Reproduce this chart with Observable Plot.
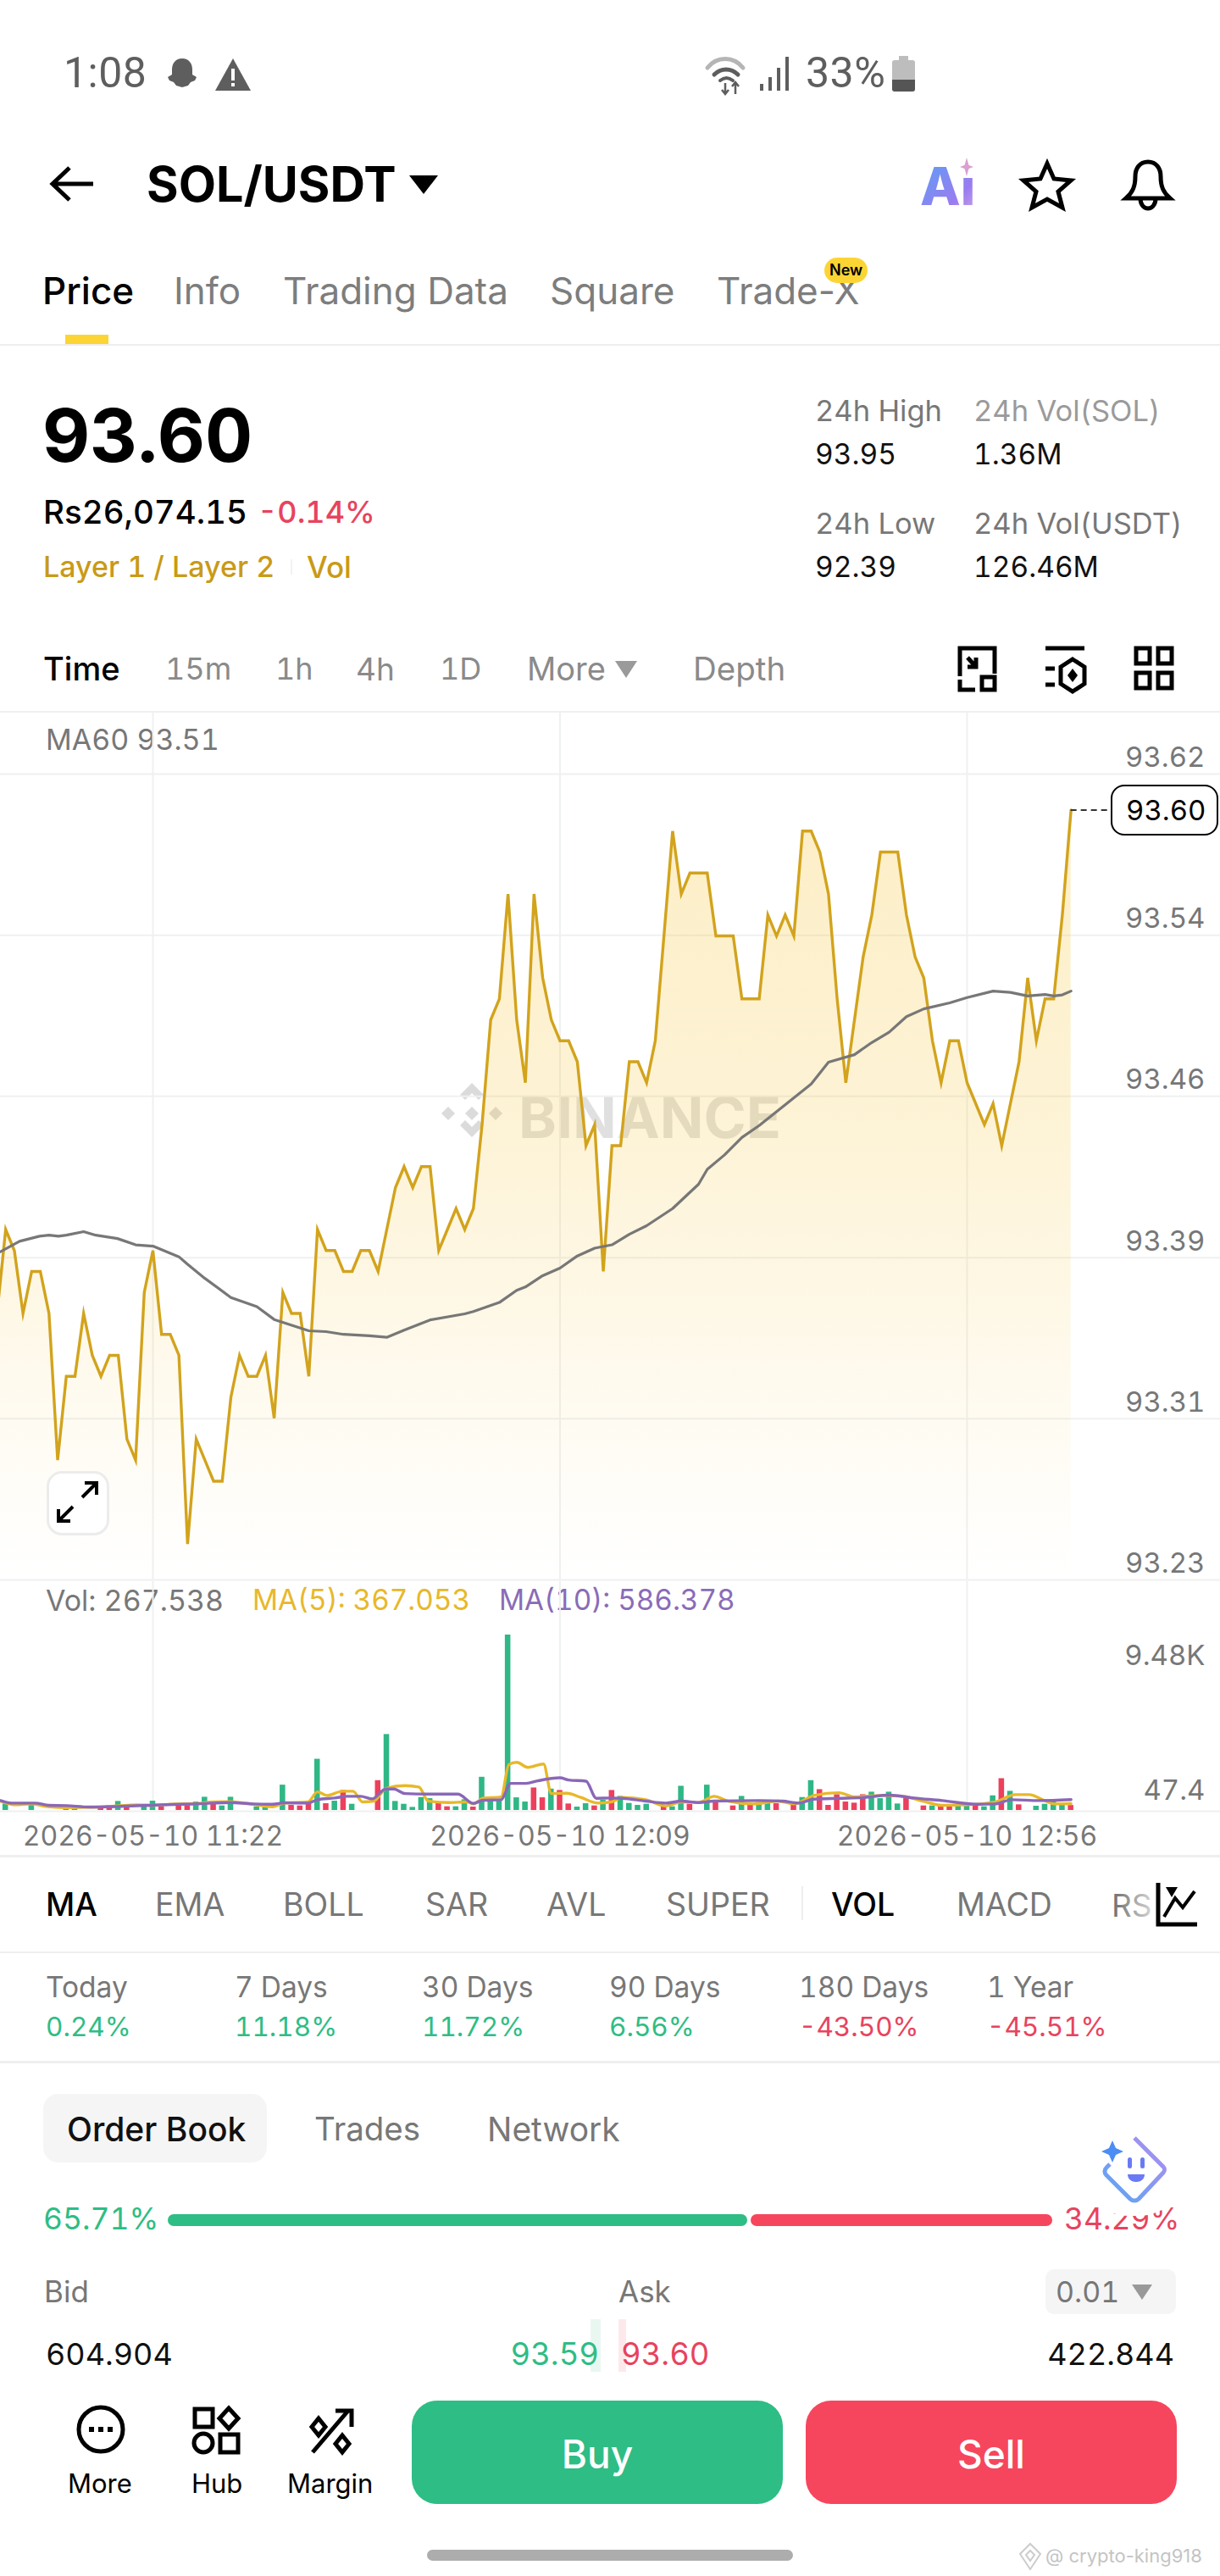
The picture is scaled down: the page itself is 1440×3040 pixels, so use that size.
<!DOCTYPE html>
<html lang="en">
<head>
<meta charset="utf-8">
<title>SOL/USDT</title>
<script src="https://cdn.jsdelivr.net/npm/d3@7"></script>
<script src="https://cdn.jsdelivr.net/npm/@observablehq/plot@0.6"></script>
<style>
html,body{margin:0;padding:0;background:#fff}
#page{position:relative;width:1440px;height:3040px;overflow:hidden;background:#fff;font-family:Inter,"Noto Sans",sans-serif;font-variant-numeric:tabular-nums}
.t{position:absolute;white-space:nowrap;transform:translateY(-50%);line-height:1}
.b{position:absolute}
.plotwrap{position:absolute;left:0}
.plotwrap svg{font-variant-numeric:tabular-nums}
svg.ic{position:absolute;overflow:visible}
</style>
</head>
<body>
<div id="page"></div>
<script>
// ---- price series: one reading per minute, first reading 18 minutes before 11:22
const priceFirstMinute = -18;
const prices = [
93.36,93.40,93.39,93.36,93.38,93.38,93.36,93.29,93.33,93.33,93.36,93.34,93.33,93.34,93.34,93.30,93.29,93.37,
93.39,93.35,93.35,93.34,93.25,93.30,93.29,93.28,93.28,93.32,
93.34,93.33,93.33,93.34,93.31,93.37,93.36,93.36,93.33,93.40,
93.39,93.39,93.38,93.38,93.39,93.39,93.38,93.40,93.42,93.43,
93.42,93.43,93.43,93.39,93.40,93.41,93.40,93.41,93.45,93.50,
93.51,93.56,93.50,93.47,93.56,93.52,93.50,93.49,93.49,93.48,
93.44,93.45,93.38,93.44,93.44,93.48,93.48,93.47,93.49,93.54,
93.59,93.56,93.57,93.57,93.57,93.54,93.54,93.54,93.51,93.51,
93.51,93.55,93.54,93.55,93.54,93.59,93.59,93.58,93.56,93.51,
93.47,93.50,93.53,93.55,93.58,93.58,93.58,93.55,93.53,93.52,
93.49,93.47,93.49,93.49,93.47,93.46,93.45,93.46,93.44,93.46,
93.48,93.52,93.49,93.51,93.51,93.55,93.60];

// ---- MA60
const ma60Minutes = [-17.6,-15.4,-13.1,-12,-10.9,-10,-8,-6.6,-4.1,-2,0,3,4,6,9,12,14,18,20,22,25,27,29,32,36,37,40,42,43,45,47,49,51,53,55,57,60,63,64,66,68,70,73,76,78,81,83,85,87,89,92,94,97,99,101,103,104,105,106];
const ma60Values = [93.3894,93.3944,93.3968,93.3973,93.3968,93.3973,93.399,93.3973,93.3957,93.3927,93.3921,93.387,93.3834,93.3767,93.3676,93.3632,93.3571,93.3517,93.3513,93.35,93.3493,93.3486,93.352,93.3569,93.3598,93.3609,93.3652,93.371,93.3726,93.378,93.3816,93.3874,93.3911,93.3927,93.3977,93.4018,93.41,93.4216,93.4287,93.4356,93.4439,93.4496,93.4595,93.4694,93.4798,93.4834,93.4892,93.4941,93.5015,93.5052,93.5081,93.5106,93.5137,93.5131,93.5114,93.5121,93.5114,93.5119,93.5137];

// ---- volume bars
const volMinutes = [-17,-14,-10,-9,-6,-5,-4,-3,-1,0,1,3,4,5,6,7,8,9,12,13,15,16,17,18,19,20,21,22,23,26,27,28,29,30,31,32,33,34,35,36,37,38,39,40,41,42,43,44,45,46,47,48,49,50,51,52,53,54,55,56,57,59,60,61,62,64,65,67,68,69,70,71,72,74,75,76,77,78,79,80,81,82,83,84,85,86,87,89,90,91,92,93,94,95,96,97,98,99,100,102,103,104,105,106];
const volValues = [350,274,122,91,198,274,486,198,198,502,198,304,304,456,714,350,243,714,198,152,1368,274,243,395,2766,365,502,1079,334,1611,4104,486,334,167,699,638,426,198,198,578,182,1794,471,578,9480,684,456,1216,684,1155,1079,350,182,365,243,547,1079,760,380,274,334,243,198,1307,334,1368,426,243,760,334,426,456,365,304,699,1611,1125,274,851,456,395,851,988,638,988,350,654,243,243,274,274,274,304,274,198,790,1718,1034,304,228,334,502,274,267.538];
const volSides = "ggggrrgrggrrrggrgggggrrrgrgrgrggggggrrggrggggggrrgrrggrgrggggrggrgrrgrggrrggrrrrrrggggrrgrrggrggrgrgggg";

// ---- volume moving averages
const ma5Minutes = [-17.6,-15.8,-14,-12.2,-10.2,-7.3,-4.1,-1.9,0,2.6,4.9,7.1,8.9,11.2,13.8,15.2,17.9,19,20.1,21.9,23.1,24.2,25.5,26.9,29.1,30.7,31.8,34.1,36.3,37,38.1,40.2,41.1,42,43.3,45.1,46,47.8,49.4,51.4,52.9,54.2,56.9,59.2,61,63,64.8,66.4,69.3,72.2,74,76.3,79.2,81,83.9,86.6,88.9,91.1,94,97.2,99.6,101.2,102.6,104.1,106];
const ma5Values = [502,304,350,198,152,167,243,304,274,350,365,456,471,350,198,395,456,1003,806,1034,1034,456,502,1186,1338,1262,502,426,456,350,654,730,2478,2599,2326,2508,912,927,699,395,456,699,578,243,456,426,760,502,350,502,350,806,958,730,806,760,502,274,304,456,851,851,608,350,367.053];
const ma10Minutes = [-17.6,-16.3,-13.6,-12,-10,-7.3,-4.1,0,4.9,8.9,11.6,13.8,15.2,17.9,19,21,22.4,24,25.3,26.9,27.8,29.1,31.8,35.2,37,38.1,40.2,41.3,43.1,44.4,47,48,50,51.2,52.9,54.2,56.9,59.2,61,63,64.8,70,72.7,74.5,76.3,79.2,82.1,85,87.9,91.1,95.1,97.2,99.2,102.3,106];
const ma10Values = [532,395,395,274,258,182,213,289,350,426,350,334,410,395,578,669,760,760,623,1155,1155,912,882,882,380,547,578,1459,1459,1596,1763,1642,1581,654,669,654,502,395,502,426,502,532,502,395,608,654,699,821,669,532,334,350,578,532,586.378];

// ---- axes
const priceTicks = [93.6172,93.5403,93.4635,93.3866,93.3098,93.2329];
const gridMinutes = [0,47,94];
const timeLabels = ["2026-05-10 11:22","2026-05-10 12:09","2026-05-10 12:56"];
const volumeTicks = ["9.48K","47.4"];
const lastPrice = 93.60;

// ---- screen texts
const tabs = [["Price",50,"#000",500],["Info",205,"#7d7d7d",400],["Trading Data",334,"#7d7d7d",400],["Square",649,"#7d7d7d",400],["Trade-X",846,"#7d7d7d",400]];
const intervals = [["Time",51,"#000",500,38],["15m",195,"#8a8a8a",400,36],["1h",325,"#8a8a8a",400,36],["4h",420,"#8a8a8a",400,37],["1D",519,"#8a8a8a",400,36],["More",622,"#8a8a8a",400,38],["Depth",818,"#8a8a8a",400,38.5]];
const indicators = [["MA",54,"#000",500],["EMA",183,"#777",400],["BOLL",334,"#777",400],["SAR",502,"#777",400],["AVL",645,"#777",400],["SUPER",786,"#777",400],["VOL",981,"#000",500],["MACD",1129,"#777",400]];
const periods = [["Today","0.24%",54],["7 Days","11.18%",277],["30 Days","11.72%",498],["90 Days","6.56%",719],["180 Days","-43.50%",943],["1 Year","-45.51%",1165]];
const stats = [["24h High","93.95",962,"#777",485,537],["24h Vol(SOL)","1.36M",1149,"#9a9a9a",485,537],["24h Low","92.39",962,"#777",618,670],["24h Vol(USDT)","126.46M",1149,"#777",618,670]];

const GREEN="#2ebd85", RED="#e8435e", GOLD="#c99a16";
const page = document.getElementById("page");

function t(text,x,y,size,color,weight,extra){
  const e=document.createElement("div");e.className="t";e.textContent=text;
  e.style.cssText+=`left:${x}px;top:${y}px;font-size:${size}px;color:${color};font-weight:${weight||400};${extra||""}`;
  page.appendChild(e);return e;
}
function tr(text,right,y,size,color,weight){
  const e=t(text,0,y,size,color,weight);e.style.left="auto";e.style.right=(1440-right)+"px";return e;
}
function box(x,y,w,h,bg,r,extra){
  const e=document.createElement("div");e.className="b";
  e.style.cssText=`left:${x}px;top:${y}px;width:${w}px;height:${h}px;background:${bg};border-radius:${r||0}px;${extra||""}`;
  page.appendChild(e);return e;
}
function ic(x,y,w,h,inner,vb){
  const d=document.createElement("div");
  d.innerHTML=`<svg class="ic" xmlns="http://www.w3.org/2000/svg" style="left:${x}px;top:${y}px" width="${w}" height="${h}" viewBox="${vb||`0 0 ${w} ${h}`}">${inner}</svg>`;
  page.appendChild(d.firstChild);
}

/* status bar */
t("1:08",75,86,50,"#5e5e5e",400,"font-family:Roboto;letter-spacing:.5px");
ic(193,62,44,50,'<path d="M22 2c8 0 12 6 12 13l0 6 5 3-2 4-5 2-3 4-7 2-7-2-3-4-5-2-2-4 5-3 0-6C10 8 14 2 22 2z" fill="#5e5e5e"/>','0 0 44 40');
ic(253,68,44,40,'<path d="M22 1L43 39H1z" fill="#5e5e5e"/><rect x="20" y="13" width="4" height="14" fill="#fff"/><rect x="20" y="30" width="4" height="4" fill="#fff"/>');
ic(832,62,52,50,'<g fill="none" stroke-linecap="round"><path d="M3 18C14 4 34 4 45 18" stroke="#b5b5b5" stroke-width="5"/><path d="M11 26c8-8 20-8 28 0" stroke="#5e5e5e" stroke-width="5"/><path d="M18 33c5-4 10-4 15 0" stroke="#5e5e5e" stroke-width="4"/></g><path d="M24 36v12M20 44l4 5 4-5" stroke="#5e5e5e" stroke-width="2.5" fill="none"/><path d="M36 49V36M32 40l4-5 4 5" stroke="#5e5e5e" stroke-width="2.5" fill="none"/>');
ic(896,66,38,42,'<g fill="#5e5e5e"><rect x="1" y="33" width="4" height="8"/><rect x="11" y="25" width="4" height="16"/><rect x="21" y="14" width="4" height="27"/><rect x="31" y="1" width="4" height="40"/></g>');
t("33%",951,86,50,"#5e5e5e",400,"font-family:Roboto;letter-spacing:.5px");
ic(1052,66,30,42,'<path d="M9 0h11v5h5a3 3 0 0 1 3 3v31a3 3 0 0 1-3 3H4a3 3 0 0 1-3-3V8a3 3 0 0 1 3-3h5z" fill="#bdbdbd"/><path d="M1 28h27v11a3 3 0 0 1-3 3H4a3 3 0 0 1-3-3z" fill="#555"/>');

/* nav bar */
ic(58,195,54,44,'<path d="M52 22H4M24 3L4 22l20 19" fill="none" stroke="#000" stroke-width="5"/>');
t("SOL/USDT",173,218,57.5,"#000",700);
ic(483,207,34,22,'<path d="M0 0h34L17 22z" fill="#000"/>');
t("Ai",1086,220,62,"url",800,"background:linear-gradient(135deg,#5aa0f5,#9a7cf0 70%,#c9a2e8);-webkit-background-clip:text;background-clip:text;color:transparent;");
box(1128,190,24,20,"#fff");
ic(1133,186,16,22,'<path d="M8 0l3 11-3 11-3-11z" fill="#d9a0d0"/><path d="M0 11l8-3 8 3-8 3z" fill="#d9a0d0"/>');
ic(1206,190,60,56,'<path d="M30 3l8 18 20 2-15 13 5 19-18-10-18 10 5-19L2 23l20-2z" fill="none" stroke="#000" stroke-width="5" stroke-linejoin="miter"/>');
ic(1325,188,60,60,'<path d="M30 3c-10 0-15 8-15 17 0 12-3 19-11 26h52c-8-7-11-14-11-26 0-9-5-17-15-17z" fill="none" stroke="#000" stroke-width="5"/><path d="M21 46c0 16 18 16 18 0" fill="none" stroke="#000" stroke-width="5"/>');

/* tabs */
tabs.forEach(d=>t(d[0],d[1],343,44,d[2],d[3],"font-variant-numeric:normal"));
box(973,304,51,30,"#fcd535",15);
t("New",979,319,18,"#000",600);
box(77,395,51,11,"#fcd535");
box(0,406,1440,2,"#eeeeee");

/* headline */
t("93.60",50,513,87,"#000",700);
t("Rs26,074.15",51,604,38.5,"#000",500);
t("-0.14%",304,604,36,RED,500);
t("Layer 1 / Layer 2",51,669,34,GOLD,500);
box(343,660,2,18,"#f2f2f2");
t("Vol",362,669,35,GOLD,500);
stats.forEach(d=>{t(d[0],d[2],d[4],34.5,d[3],400);t(d[1],d[2],d[5],33.5,"#111",400);});

/* interval row */
intervals.forEach(d=>t(d[0],d[1],789,d[4],d[2],d[3]));
ic(726,780,26,20,'<path d="M0 0h26L13 20z" fill="#9a9a9a"/>');
ic(1130,762,46,54,'<g fill="none" stroke="#000" stroke-width="5"><path d="M3 36V3h41v30"/><path d="M21 52H3V40"/><rect x="29" y="37" width="15" height="15"/><path d="M12 14l10 11M22 14v11H12"/></g>');
ic(1232,762,50,54,'<g fill="none" stroke="#000" stroke-width="5"><path d="M2 3h46"/><path d="M2 27h11M2 46h11"/><path d="M34 16l14 9v20l-14 9-14-9V25z"/></g><path d="M34 27l6 8-6 8-6-8z" fill="#000"/>');
ic(1338,762,48,54,'<g fill="none" stroke="#000" stroke-width="5"><rect x="3" y="3" width="16" height="18"/><rect x="29" y="3" width="16" height="18"/><rect x="3" y="32" width="16" height="18"/><rect x="29" y="32" width="16" height="18"/></g>');
box(0,839,1440,2,"#f0f0f0");
t("MA60 93.51",54,873,34,"#777",400);

/* BINANCE watermark */
ic(517,1274,82,82,'<g fill="#000" opacity=".14"><path d="M40 4l14 14-6 6-8-8-8 8-6-6zM4 40l8-8 8 8-8 8zM60 40l8-8 8 8-8 8zM40 32l8 8-8 8-8-8zM26 54l6-6 8 8 8-8 6 6-14 14z"/></g>');
t("BINANCE",612,1318,68,"rgba(0,0,0,.12)",700);

/* price panel */
const chartTopValue = 93.6172 + (73/951)*(93.6172-93.2329);
const priceRows = prices.map((p,i)=>({m:priceFirstMinute+i,p}));
const maRows = ma60Minutes.map((m,i)=>({m,v:ma60Values[i]}));
const xDomain = [-17.607,123.25];
const pricePlot = Plot.plot({
  width:1440,height:1026,marginTop:73,marginBottom:2,marginLeft:0,marginRight:0,
  style:{background:"transparent",fontFamily:"Inter",overflow:"visible"},
  x:{domain:xDomain,axis:null},
  y:{domain:[93.2329,93.6172],axis:null},
  marks:[
    ()=>{const s=d3.create("svg:defs");
      const g=s.append("linearGradient").attr("id","priceFill").attr("x1",0).attr("y1",0).attr("x2",0).attr("y2",1);
      [[0,.27],[.4,.2],[.6,.135],[.8,.06],[1,0]].forEach(([o,a])=>g.append("stop").attr("offset",o).attr("stop-color","rgb(245,193,46)").attr("stop-opacity",a));
      return s.node();},
    Plot.ruleY(priceTicks,{stroke:"#eff0f1",strokeWidth:2}),
    Plot.ruleX(gridMinutes,{y1:93.2329,y2:chartTopValue,stroke:"#eff0f1",strokeWidth:2}),
    Plot.areaY(priceRows,{x:"m",y1:93.2329,y2:"p",fill:"url(#priceFill)"}),
    Plot.line(priceRows,{x:"m",y:"p",stroke:"#d2a31c",strokeWidth:3.4,strokeLinejoin:"miter",strokeMiterlimit:6}),
    Plot.line(maRows,{x:"m",y:"v",stroke:"#777777",strokeWidth:3.2}),
    Plot.ruleY([lastPrice],{x1:106,x2:110.6,stroke:"#333",strokeWidth:2,strokeDasharray:"7 5"}),
    Plot.text(priceTicks,{y:d=>d,text:d=>d.toFixed(2),frameAnchor:"right",textAnchor:"end",dx:-18,dy:-19,fontSize:33,fill:"#777"})
  ]
});
const pw=document.createElement("div");pw.className="plotwrap";pw.style.top="840px";pw.appendChild(pricePlot);page.appendChild(pw);

box(1311,926,127,60,"#fff",16,"border:2px solid #000;box-sizing:border-box;");
t(lastPrice.toFixed(2),1329,956,33,"#000",400);

/* expand button */
box(55,1736,74,76,"rgba(255,255,255,.9)",18,"border:3px solid #ececec;box-sizing:border-box;");
ic(67,1748,50,50,'<g fill="none" stroke="#000" stroke-width="4"><path d="M30 19L46 3M33 2h14v14"/><path d="M19 30L3 46M16 47H2V33"/></g>');

/* volume panel */
t("Vol: 267.538",54,1889,34,"#777",400);
t("MA(5): 367.053",298,1889,33.3,"#e8b829",400);
t("MA(10): 586.378",589,1889,33.3,"#8a6bb8",400);

const volRows = volMinutes.map((m,i)=>({m,v:volValues[i],up:volSides[i]==="g"}));
const ma5Rows = ma5Minutes.map((m,i)=>({m,v:ma5Values[i]}));
const ma10Rows = ma10Minutes.map((m,i)=>({m,v:ma10Values[i]}));
const volPlot = Plot.plot({
  width:1440,height:324,marginTop:63,marginBottom:54,marginLeft:0,marginRight:0,
  style:{background:"transparent",fontFamily:"Inter",overflow:"visible"},
  x:{domain:xDomain,axis:null},
  y:{domain:[0,9480],axis:null},
  marks:[
    Plot.ruleX(gridMinutes,{y1:0,y2:12365,stroke:"#eff0f1",strokeWidth:2}),
    Plot.ruleY([0],{stroke:"#efefef",strokeWidth:2,dy:1}),
    Plot.rectY(volRows,{x1:d=>d.m-0.32,x2:d=>d.m+0.32,y1:0,y2:"v",fill:d=>d.up?"#2fb786":"#ec405c"}),
    Plot.line(ma5Rows,{x:"m",y:"v",stroke:"#e8b829",strokeWidth:3.4,curve:"monotone-x"}),
    Plot.line(ma10Rows,{x:"m",y:"v",stroke:"#8a67b8",strokeWidth:3.4,curve:"monotone-x"}),
    Plot.text(gridMinutes,{x:d=>d,text:(d,i)=>timeLabels[i],frameAnchor:"bottom",lineAnchor:"middle",dy:31,fontSize:32,fill:"#777"}),
    Plot.text([volumeTicks[0]],{frameAnchor:"top-right",textAnchor:"end",lineAnchor:"middle",dx:-18,dy:25,fontSize:33,fill:"#777"}),
    Plot.text([volumeTicks[1]],{frameAnchor:"bottom-right",textAnchor:"end",lineAnchor:"middle",dx:-18,dy:-23,fontSize:33,fill:"#777"})
  ]
});
const vw=document.createElement("div");vw.className="plotwrap";vw.style.top="1866px";vw.appendChild(volPlot);page.appendChild(vw);

/* indicators */
box(0,2189,1440,3,"#efefef");
indicators.forEach(d=>t(d[0],d[1],2248,37.5,d[2],d[3]));
t("RS",1312,2248,37,"#777",400);
box(1318,2210,60,74,"transparent",0,"background:linear-gradient(90deg,rgba(255,255,255,0),#fff)");
box(946,2226,2,40,"#eeeeee");
ic(1364,2222,50,52,'<path d="M3 0v49h46" fill="none" stroke="#000" stroke-width="5"/><path d="M10 40l13-22 9 11L46 10" fill="none" stroke="#000" stroke-width="4"/><path d="M12 5h14L19 17z" fill="#000"/>');
box(0,2303,1440,2,"#efefef");
periods.forEach(d=>{t(d[0],d[2],2346,33.5,"#777",400);t(d[1],d[2],2392,31.5,d[1][0]==="-"?RED:GREEN,400);});
box(0,2432,1440,3,"#efefef");

/* order book */
box(51,2471,264,81,"#f5f5f5",18);
t("Order Book",79,2512,39,"#111",500);
t("Trades",371,2512,38.5,"#777",400);
t("Network",575,2512,39,"#777",400);
t("65.71%",51,2619,35.5,GREEN,400);
t("34.29%",1256,2619,35.5,RED,400);
box(198,2613,684,14,GREEN,7);
box(886,2613,356,14,"#f6465d",7);
box(1273,2495,130,120,"#fff",60);
ic(1299,2520,78,80,'<defs><linearGradient id="bot" x1="0" y1="1" x2="1" y2="0"><stop offset="0" stop-color="#5aa6f5"/><stop offset="1" stop-color="#b08cf0"/></linearGradient></defs><path d="M40 3l34 34a5 5 0 0 1 0 7L45 75a7 7 0 0 1-10 0L7 47a6 6 0 0 1 0-9l4-4" fill="none" stroke="url(#bot)" stroke-width="5"/><path d="M14 6l4 9 9 4-9 4-4 9-4-9-9-4 9-4z" fill="#4c8cf5"/><rect x="32" y="26" width="5" height="13" rx="2.5" fill="#6a7af5"/><rect x="47" y="26" width="5" height="13" rx="2.5" fill="#6a7af5"/><path d="M32 46h20c0 12-20 12-20 0z" fill="#6a7af5"/>');
t("Bid",52,2704,35,"#777",400);
t("Ask",730,2704,35,"#777",400);
box(1234,2678,154,53,"#f5f5f5",10);
t("0.01",1246,2705,34,"#777",400);
ic(1336,2696,24,18,'<path d="M0 0h24L12 18z" fill="#999"/>');
box(697,2737,12,62,"#e9f7f1");
box(730,2737,9,62,"#fde9ec");
t("604.904",54,2778,36,"#111",400);
tr("93.59",707,2778,36.5,GREEN,400);
t("93.60",733,2778,36.5,RED,400);
tr("422.844",1386,2778,36,"#111",400);

/* bottom bar */
ic(90,2838,58,58,'<circle cx="29" cy="29" r="26" fill="none" stroke="#000" stroke-width="5"/><g fill="#000"><rect x="15" y="26" width="6" height="6"/><rect x="26" y="26" width="6" height="6"/><rect x="37" y="26" width="6" height="6"/></g>');
ic(227,2840,56,56,'<g fill="none" stroke="#000" stroke-width="5"><rect x="3" y="3" width="21" height="21"/><path d="M43 2l11 12-11 12-11-12z"/><circle cx="13" cy="43" r="11"/><rect x="33" y="33" width="21" height="21"/></g>');
ic(366,2842,52,54,'<g fill="none" stroke="#000" stroke-width="5"><path d="M3 52L44 4"/><path d="M30 3h19v19"/><path d="M10 12l8 10-8 10-8-10z"/><path d="M38 32l8 10-8 10-8-10z"/></g>');
t("More",80,2930,31,"#000",400);
t("Hub",226,2930,31,"#000",400);
t("Margin",339,2930,31,"#000",400);
box(486,2833,438,122,"#2ebd85",30);
box(951,2833,438,122,"#f6465d",30);
const bu=t("Buy",0,2896,46,"#fff",500);bu.style.cssText+="left:486px;width:438px;text-align:center;";
const se=t("Sell",0,2896,46,"#fff",500);se.style.cssText+="left:951px;width:438px;text-align:center;";
box(504,3009,432,13,"#adadad",7);
ic(1202,3000,28,34,'<g fill="none" stroke="#ccc" stroke-width="2"><path d="M14 2l12 12-12 18L2 14z"/><path d="M14 10l5 5-5 7-5-7z"/></g>');
t("@ crypto-king918",1234,3016,22,"#c4c4c4",400,"font-variant-numeric:normal");
</script>
</body>
</html>
